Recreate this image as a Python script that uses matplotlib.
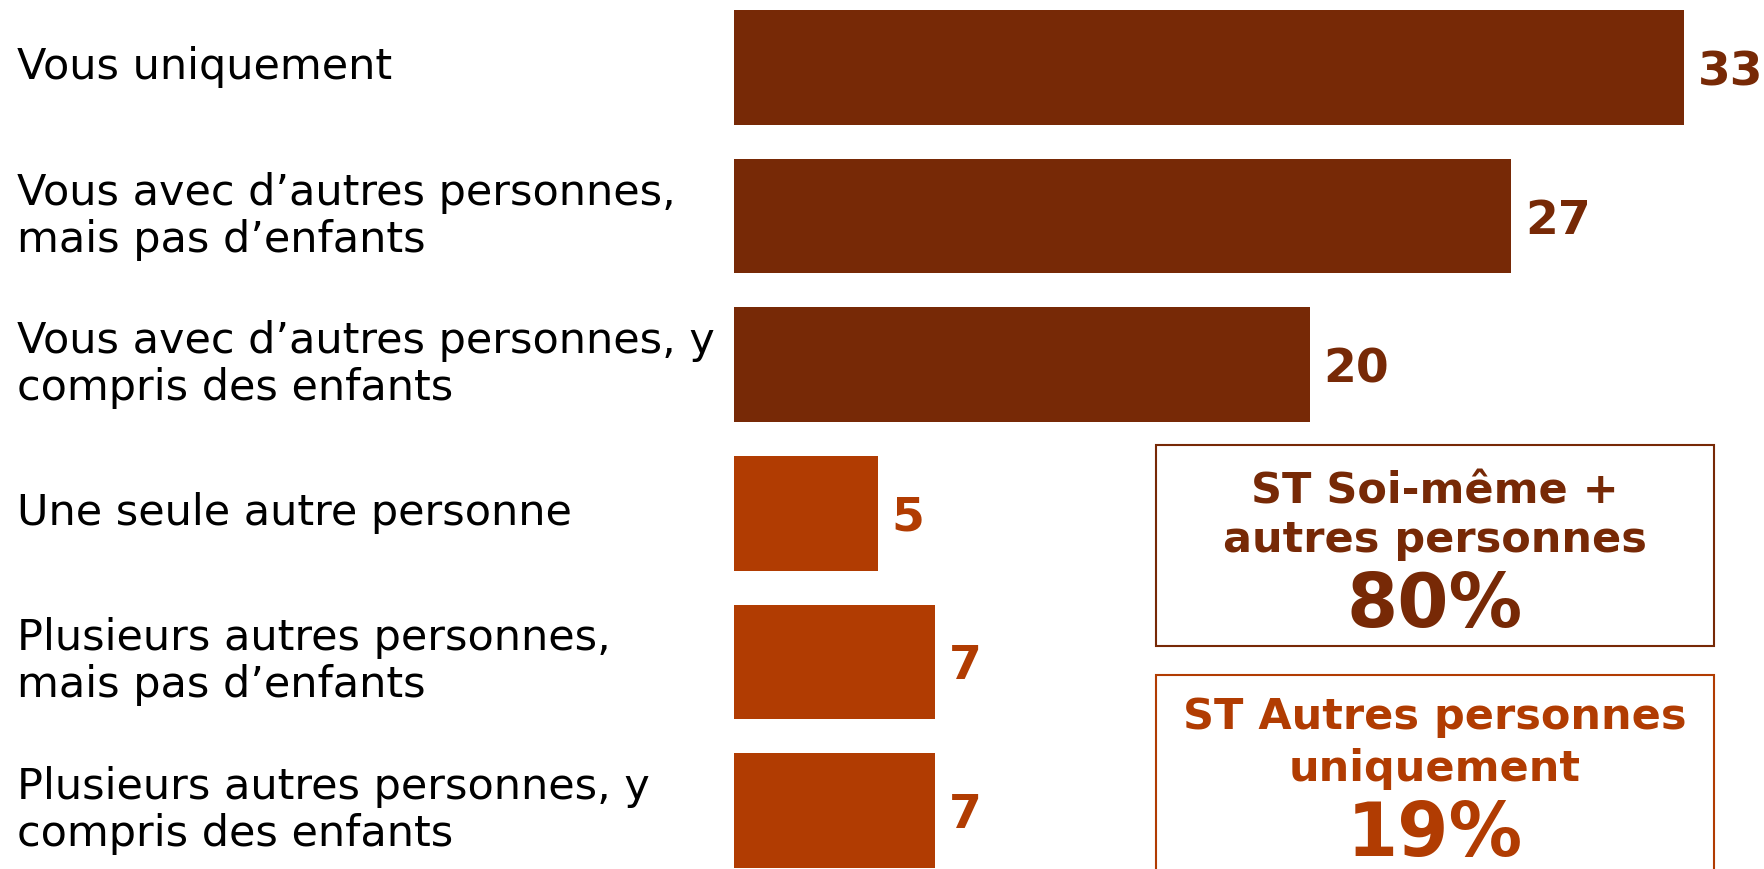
import matplotlib
matplotlib.use("Agg")
import matplotlib.pyplot as plt
from matplotlib.patches import Rectangle
from matplotlib import transforms

# Survey answers: who the dwelling is occupied by
categories = [
    "Vous uniquement",
    "Vous avec d\u2019autres personnes,\nmais pas d\u2019enfants",
    "Vous avec d\u2019autres personnes, y\ncompris des enfants",
    "Une seule autre personne",
    "Plusieurs autres personnes,\nmais pas d\u2019enfants",
    "Plusieurs autres personnes, y\ncompris des enfants",
]
values = [33, 27, 20, 5, 7, 7]
groups = ["self", "self", "self", "others", "others", "others"]

# Subtotals shown in the boxes
subtotal_titles = ["ST Soi-m\u00eame +\nautres personnes", "ST Autres personnes\nuniquement"]
subtotal_values = [80, 19]

DARK = "#772906"
ORANGE = "#B13C02"
colors = {"self": DARK, "others": ORANGE}

W, H = 1764, 869
fig = plt.figure(figsize=(W / 100, H / 100), dpi=100)
plt.rcParams['font.family'] = ['DejaVu Sans']

# axes start where the bars start, scale ~28.8 px per unit
px_per_unit = 28.78
left_px = 734
ax = fig.add_axes([left_px / W, 0, 1 - left_px / W, 1])
ax.set_xlim(0, (W - left_px) / px_per_unit)
pitch = 148.6
top_center = 67.5
ax.set_ylim((H - top_center) / pitch, -top_center / pitch)
ax.axis("off")

ypos = list(range(len(values)))
ax.barh(ypos, values, height=0.77, color=[colors[g] for g in groups])

label_tf = transforms.blended_transform_factory(fig.transFigure, ax.transData)
for y, cat, v, g in zip(ypos, categories, values, groups):
    ax.text(17 / W, y, cat, transform=label_tf, ha="left", va="center",
            fontsize=31, color="black", linespacing=1.15)
    ax.annotate(str(v), xy=(v, y), xytext=(10, 0), textcoords="offset points",
                ha="left", va="center_baseline", fontsize=34, fontweight="bold",
                color=colors[g])

# subtotal boxes (pixel geometry converted to figure fractions)
boxes = [
    dict(top=445, bottom=646, color=DARK, base1=503, base2=552, base3=627),
    dict(top=675, bottom=876, color=ORANGE, base1=729, base2=781, base3=856),
]
bx0, bx1 = 1156, 1714
cx = (bx0 + bx1) / 2 / W
for b, title, val in zip(boxes, subtotal_titles, subtotal_values):
    rect = Rectangle((bx0 / W, 1 - b["bottom"] / H), (bx1 - bx0) / W,
                     (b["bottom"] - b["top"]) / H, transform=fig.transFigure,
                     fill=False, edgecolor=b["color"], linewidth=1.5, clip_on=False)
    fig.add_artist(rect)
    line1, line2 = title.split("\n")
    fig.text(cx, 1 - b["base1"] / H, line1, ha="center", va="baseline",
             fontsize=31, fontweight="bold", color=b["color"])
    fig.text(cx, 1 - b["base2"] / H, line2, ha="center", va="baseline",
             fontsize=31, fontweight="bold", color=b["color"])
    fig.text(cx, 1 - b["base3"] / H, f"{val}%", ha="center", va="baseline",
             fontsize=53, fontweight="bold", color=b["color"])

fig.savefig("out.png", dpi=100)
